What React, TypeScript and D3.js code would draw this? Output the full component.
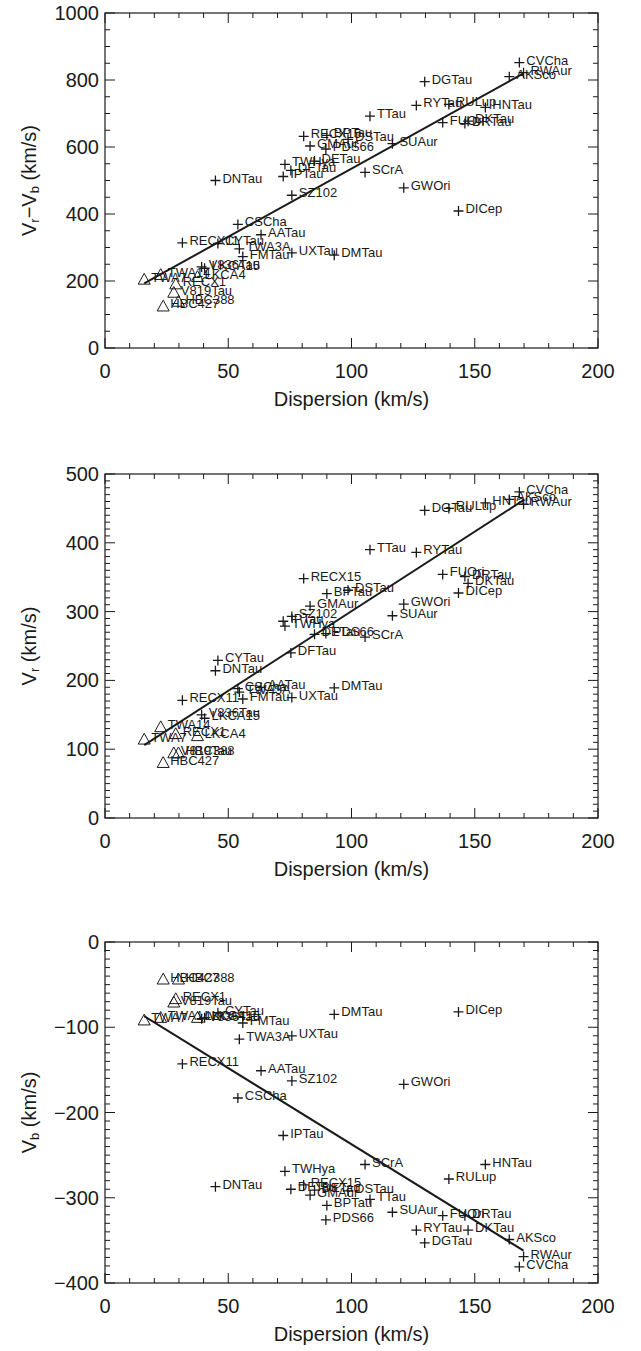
import React, { useEffect, useRef } from 'react';
import * as d3 from 'd3';

// star names, dispersion (km/s), and the three velocities
const names = [
  'AATau', 'AKSco', 'BPTau', 'CSCha', 'CVCha', 'CYTau', 'DETau', 'DFTau', 'DGTau', 'DICep',
  'DKTau', 'DMTau', 'DNTau', 'DRTau', 'DSTau', 'FMTau', 'FUOri', 'GMAur', 'GWOri', 'HBC388',
  'HBC427', 'HNTau', 'IPTau', 'LKCA4', 'LKCA15', 'PDS66', 'RECX1', 'RECX11', 'RECX15', 'RULup',
  'RWAur', 'RYTau', 'SCrA', 'SUAur', 'SZ102', 'TTau', 'TWA14', 'TWA3A', 'TWA7', 'TWHya',
  'UXTau', 'V819Tau', 'V836Tau',
];
const dispersion = [
  63.3, 164.0, 90.0, 53.9, 168.1, 45.8, 85.0, 75.4, 129.7, 143.4,
  147.3, 93.0, 44.8, 146.0, 98.6, 55.9, 137.0, 83.2, 121.2, 29.8,
  23.6, 154.3, 72.3, 37.5, 40.4, 89.6, 28.7, 31.4, 80.6, 139.5,
  169.8, 126.3, 105.5, 116.6, 75.8, 107.5, 22.6, 54.5, 15.9, 73.0,
  75.8, 27.9, 39.2,
];
const vrMinusVb = [
  338, 810, 635, 369, 852, 312, 558, 530, 795, 409,
  677, 277, 500, 670, 623, 273, 673, 603, 478, 138,
  124, 718, 512, 212, 238, 594, 190, 314, 632, 727,
  822, 724, 524, 610, 456, 692, 218, 296, 204, 548,
  284, 165, 242,
];
const vr = [
  190, 463, 326, 188, 474, 229, 267, 240, 447, 327,
  341, 189, 214, 351, 331, 173, 354, 308, 311, 94,
  80, 458, 286, 119, 145, 268, 122, 171, 348, 450,
  456, 386, 263, 294, 293, 390, 132, 183, 114, 279,
  175, 94, 150,
];
const vb = [
  -151, -349, -309, -183, -381, -83, -291, -290, -353, -82,
  -338, -85, -287, -321, -292, -95, -321, -297, -167, -44,
  -44, -261, -227, -89, -89, -326, -67, -143, -285, -278,
  -369, -338, -261, -317, -163, -302, -89, -114, -92, -269,
  -110, -71, -90,
];
// stars drawn with triangles instead of plus signs
const triangleStars = ['HBC388', 'HBC427', 'LKCA4', 'RECX1', 'TWA14', 'TWA7', 'V819Tau'];

// straight-line fits, end points
const fitX = [15.9, 169.8];
const fitDiff = [193, 820];
const fitVr = [106, 462];
const fitVb = [-87, -362];

const xTicks = [0, 50, 100, 150, 200];

const FONT = '"Liberation Sans", Arial, sans-serif';

export default function App() {
  const ref = useRef<SVGSVGElement | null>(null);

  useEffect(() => {
    const svg = d3.select(ref.current);
    svg.selectAll('*').remove();

    const left = 105;
    const right = 598;

    const panels = [
      { top: 13, bottom: 348, domain: [0, 1000], major: 200, minor: 50, vals: vrMinusVb, fit: fitDiff, title: ['V', 'r', '\u2212V', 'b', ' (km/s)'] },
      { top: 474, bottom: 818, domain: [0, 500], major: 100, minor: 10, vals: vr, fit: fitVr, title: ['V', 'r', ' (km/s)'] },
      { top: 942, bottom: 1283, domain: [-400, 0], major: 100, minor: 10, vals: vb, fit: fitVb, title: ['V', 'b', ' (km/s)'] },
    ];

    const x = d3.scaleLinear().domain([0, 200]).range([left, right]);
    const ink = '#1a1a1a';

    panels.forEach(p => {
      const y = d3.scaleLinear().domain(p.domain).range([p.bottom, p.top]);
      const g = svg.append('g');

      // frame
      g.append('rect')
        .attr('x', left).attr('y', p.top)
        .attr('width', right - left).attr('height', p.bottom - p.top)
        .attr('fill', 'none').attr('stroke', ink).attr('stroke-width', 1.2);

      // x ticks, bottom and top, pointing inward
      d3.range(0, 201, 10).forEach(v => {
        const len = v % 50 === 0 ? 10 : 5;
        const xx = x(v);
        g.append('line').attr('x1', xx).attr('x2', xx).attr('y1', p.bottom).attr('y2', p.bottom - len)
          .attr('stroke', ink).attr('stroke-width', 1);
        g.append('line').attr('x1', xx).attr('x2', xx).attr('y1', p.top).attr('y2', p.top + len)
          .attr('stroke', ink).attr('stroke-width', 1);
      });
      xTicks.forEach(v => {
        g.append('text').attr('x', x(v)).attr('y', p.bottom + 30)
          .attr('text-anchor', 'middle').attr('font-family', FONT).attr('font-size', 20)
          .attr('fill', ink).text(String(v));
      });
      g.append('text').attr('x', (left + right) / 2).attr('y', p.bottom + 58)
        .attr('text-anchor', 'middle').attr('font-family', FONT).attr('font-size', 20)
        .attr('fill', ink).text('Dispersion (km/s)');

      // y ticks, left and right
      d3.range(p.domain[0], p.domain[1] + 0.001, p.minor).forEach(v => {
        const len = Math.abs(v % p.major) < 0.001 ? 10 : 5;
        const yy = y(v);
        g.append('line').attr('x1', left).attr('x2', left + len).attr('y1', yy).attr('y2', yy)
          .attr('stroke', ink).attr('stroke-width', 1);
        g.append('line').attr('x1', right).attr('x2', right - len).attr('y1', yy).attr('y2', yy)
          .attr('stroke', ink).attr('stroke-width', 1);
      });
      d3.range(p.domain[0], p.domain[1] + 0.001, p.major).forEach(v => {
        g.append('text').attr('x', left - 6).attr('y', y(v) + 7)
          .attr('text-anchor', 'end').attr('font-family', FONT).attr('font-size', 20)
          .attr('fill', ink).text(v < 0 ? '\u2212' + Math.abs(v) : String(v));
      });

      // y title, rotated
      const cy = (p.top + p.bottom) / 2;
      const t = g.append('text')
        .attr('transform', `translate(36,${cy}) rotate(-90)`)
        .attr('text-anchor', 'middle').attr('font-family', FONT).attr('font-size', 20)
        .attr('fill', ink);
      p.title.forEach(s => {
        const isSub = s === 'r' || s === 'b';
        t.append('tspan')
          .attr('font-size', isSub ? 13 : 20)
          .attr('baseline-shift', isSub ? '-25%' : null)
          .text(s);
      });

      // fit line
      g.append('line')
        .attr('x1', x(fitX[0])).attr('y1', y(p.fit[0]))
        .attr('x2', x(fitX[1])).attr('y2', y(p.fit[1]))
        .attr('stroke', ink).attr('stroke-width', 2);

      // points and labels
      names.forEach((n, i) => {
        const px = x(dispersion[i]);
        const py = y(p.vals[i]);
        if (triangleStars.includes(n)) {
          const s = 6;
          g.append('path')
            .attr('d', `M${px - s},${py + s * 0.75}L${px + s},${py + s * 0.75}L${px},${py - s * 1.05}Z`)
            .attr('fill', 'none').attr('stroke', ink).attr('stroke-width', 1);
        } else {
          const s = 5;
          g.append('path')
            .attr('d', `M${px - s},${py}H${px + s}M${px},${py - s}V${py + s}`)
            .attr('stroke', ink).attr('stroke-width', 1.3);
        }
        g.append('text').attr('x', px + 7).attr('y', py + 2)
          .attr('font-family', FONT).attr('font-size', 13).attr('fill', ink).text(n);
      });
    });

    return () => { svg.selectAll('*').remove(); };
  }, []);

  return (
    <>
      <style>{'body{margin:0;background:#fff}'}</style>
      <svg ref={ref} width={641} height={1351} style={{ display: 'block' }} />
    </>
  );
}
